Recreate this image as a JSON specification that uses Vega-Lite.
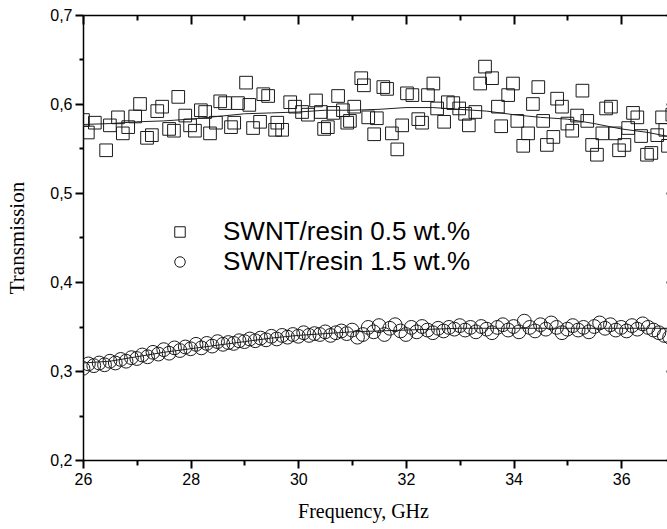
{
  "$schema": "https://vega.github.io/schema/vega-lite/v6.json",
  "width": 592,
  "height": 445,
  "autosize": "none",
  "padding": {"left": 83, "top": 15, "right": 0, "bottom": 69},
  "background": "white",
  "datasets": {
    "sq": [
      {"f":26.00,"t":0.582},{"f":26.09,"t":0.568},{"f":26.22,"t":0.579},{"f":26.43,"t":0.548},{"f":26.50,"t":0.576},{"f":26.65,"t":0.585},{"f":26.74,"t":0.567},{"f":26.84,"t":0.574},{"f":26.97,"t":0.586},{"f":27.06,"t":0.600},
      {"f":27.19,"t":0.562},{"f":27.28,"t":0.565},{"f":27.38,"t":0.592},{"f":27.47,"t":0.597},{"f":27.60,"t":0.572},{"f":27.69,"t":0.570},{"f":27.77,"t":0.608},{"f":27.90,"t":0.587},{"f":27.99,"t":0.576},{"f":28.08,"t":0.570},
      {"f":28.19,"t":0.593},{"f":28.27,"t":0.591},{"f":28.36,"t":0.567},{"f":28.47,"t":0.579},{"f":28.55,"t":0.603},{"f":28.64,"t":0.601},{"f":28.75,"t":0.574},{"f":28.81,"t":0.579},{"f":28.88,"t":0.601},{"f":29.03,"t":0.624},
      {"f":29.09,"t":0.599},{"f":29.16,"t":0.573},{"f":29.29,"t":0.580},{"f":29.35,"t":0.611},{"f":29.44,"t":0.609},{"f":29.57,"t":0.571},{"f":29.61,"t":0.579},{"f":29.70,"t":0.571},{"f":29.85,"t":0.602},{"f":29.94,"t":0.597},
      {"f":30.07,"t":0.591},{"f":30.18,"t":0.588},{"f":30.33,"t":0.604},{"f":30.42,"t":0.591},{"f":30.48,"t":0.572},{"f":30.55,"t":0.574},{"f":30.65,"t":0.590},{"f":30.74,"t":0.609},{"f":30.83,"t":0.593},{"f":30.91,"t":0.579},
      {"f":30.96,"t":0.581},{"f":31.04,"t":0.597},{"f":31.17,"t":0.629},{"f":31.22,"t":0.621},{"f":31.30,"t":0.585},{"f":31.41,"t":0.566},{"f":31.46,"t":0.584},{"f":31.58,"t":0.619},{"f":31.65,"t":0.617},{"f":31.74,"t":0.567},
      {"f":31.84,"t":0.549},{"f":31.93,"t":0.576},{"f":32.02,"t":0.612},{"f":32.12,"t":0.610},{"f":32.23,"t":0.583},{"f":32.30,"t":0.579},{"f":32.41,"t":0.610},{"f":32.51,"t":0.623},{"f":32.58,"t":0.595},{"f":32.71,"t":0.580},
      {"f":32.78,"t":0.602},{"f":32.88,"t":0.601},{"f":32.99,"t":0.595},{"f":33.10,"t":0.589},{"f":33.17,"t":0.576},{"f":33.29,"t":0.591},{"f":33.38,"t":0.623},{"f":33.47,"t":0.642},{"f":33.60,"t":0.629},{"f":33.71,"t":0.597},
      {"f":33.77,"t":0.575},{"f":33.90,"t":0.610},{"f":33.99,"t":0.623},{"f":34.07,"t":0.581},{"f":34.18,"t":0.553},{"f":34.27,"t":0.567},{"f":34.36,"t":0.600},{"f":34.46,"t":0.619},{"f":34.55,"t":0.581},{"f":34.62,"t":0.554},
      {"f":34.74,"t":0.563},{"f":34.81,"t":0.606},{"f":34.90,"t":0.597},{"f":35.00,"t":0.578},{"f":35.09,"t":0.570},{"f":35.18,"t":0.587},{"f":35.28,"t":0.615},{"f":35.37,"t":0.581},{"f":35.46,"t":0.554},{"f":35.55,"t":0.543},
      {"f":35.65,"t":0.567},{"f":35.72,"t":0.595},{"f":35.81,"t":0.597},{"f":35.89,"t":0.567},{"f":35.96,"t":0.548},{"f":36.06,"t":0.554},{"f":36.13,"t":0.573},{"f":36.22,"t":0.590},{"f":36.30,"t":0.585},{"f":36.37,"t":0.564},
      {"f":36.48,"t":0.543},{"f":36.56,"t":0.545},{"f":36.67,"t":0.565},{"f":36.76,"t":0.585},{"f":36.82,"t":0.571},{"f":36.87,"t":0.553},{"f":36.95,"t":0.588}
    ],
    "ci": [
      {"f":26.0,"t":0.303},{"f":26.1,"t":0.308},{"f":26.2,"t":0.306},{"f":26.3,"t":0.309},{"f":26.4,"t":0.307},{"f":26.5,"t":0.311},{"f":26.6,"t":0.309},{"f":26.7,"t":0.313},{"f":26.8,"t":0.311},{"f":26.9,"t":0.315},
      {"f":27.0,"t":0.314},{"f":27.1,"t":0.318},{"f":27.2,"t":0.316},{"f":27.3,"t":0.321},{"f":27.4,"t":0.319},{"f":27.5,"t":0.324},{"f":27.6,"t":0.320},{"f":27.7,"t":0.326},{"f":27.8,"t":0.323},{"f":27.9,"t":0.327},
      {"f":28.0,"t":0.325},{"f":28.1,"t":0.330},{"f":28.2,"t":0.326},{"f":28.3,"t":0.331},{"f":28.4,"t":0.328},{"f":28.5,"t":0.333},{"f":28.6,"t":0.330},{"f":28.7,"t":0.332},{"f":28.8,"t":0.331},{"f":28.9,"t":0.334},
      {"f":29.0,"t":0.333},{"f":29.1,"t":0.336},{"f":29.2,"t":0.334},{"f":29.3,"t":0.337},{"f":29.4,"t":0.335},{"f":29.5,"t":0.339},{"f":29.6,"t":0.336},{"f":29.7,"t":0.340},{"f":29.8,"t":0.338},{"f":29.9,"t":0.341},
      {"f":30.0,"t":0.339},{"f":30.1,"t":0.343},{"f":30.2,"t":0.340},{"f":30.3,"t":0.342},{"f":30.4,"t":0.341},{"f":30.5,"t":0.344},{"f":30.6,"t":0.340},{"f":30.7,"t":0.343},{"f":30.8,"t":0.345},{"f":30.9,"t":0.342},
      {"f":31.0,"t":0.346},{"f":31.1,"t":0.338},{"f":31.2,"t":0.341},{"f":31.3,"t":0.349},{"f":31.4,"t":0.344},{"f":31.5,"t":0.351},{"f":31.6,"t":0.341},{"f":31.7,"t":0.348},{"f":31.8,"t":0.352},{"f":31.9,"t":0.345},
      {"f":32.0,"t":0.341},{"f":32.1,"t":0.349},{"f":32.2,"t":0.344},{"f":32.3,"t":0.350},{"f":32.4,"t":0.346},{"f":32.5,"t":0.343},{"f":32.6,"t":0.348},{"f":32.7,"t":0.345},{"f":32.8,"t":0.349},{"f":32.9,"t":0.347},
      {"f":33.0,"t":0.351},{"f":33.1,"t":0.346},{"f":33.2,"t":0.349},{"f":33.3,"t":0.344},{"f":33.4,"t":0.350},{"f":33.5,"t":0.347},{"f":33.6,"t":0.343},{"f":33.7,"t":0.349},{"f":33.8,"t":0.352},{"f":33.9,"t":0.346},
      {"f":34.0,"t":0.350},{"f":34.1,"t":0.344},{"f":34.2,"t":0.356},{"f":34.3,"t":0.349},{"f":34.4,"t":0.345},{"f":34.5,"t":0.352},{"f":34.6,"t":0.347},{"f":34.7,"t":0.354},{"f":34.8,"t":0.349},{"f":34.9,"t":0.343},
      {"f":35.0,"t":0.347},{"f":35.1,"t":0.351},{"f":35.2,"t":0.346},{"f":35.3,"t":0.349},{"f":35.4,"t":0.344},{"f":35.5,"t":0.350},{"f":35.6,"t":0.354},{"f":35.7,"t":0.348},{"f":35.8,"t":0.352},{"f":35.9,"t":0.346},
      {"f":36.0,"t":0.349},{"f":36.1,"t":0.345},{"f":36.2,"t":0.351},{"f":36.3,"t":0.347},{"f":36.4,"t":0.353},{"f":36.5,"t":0.349},{"f":36.6,"t":0.346},{"f":36.7,"t":0.343},{"f":36.8,"t":0.340},{"f":36.9,"t":0.338},
      {"f":37.0,"t":0.339}
    ],
    "fits": [
      {"s":"a","f":26.0,"t":0.577},{"s":"a","f":26.5,"t":0.578},{"s":"a","f":27.0,"t":0.580},{"s":"a","f":27.5,"t":0.581},{"s":"a","f":28.0,"t":0.583},{"s":"a","f":28.5,"t":0.586},{"s":"a","f":29.0,"t":0.589},{"s":"a","f":29.5,"t":0.590},{"s":"a","f":30.0,"t":0.591},{"s":"a","f":30.5,"t":0.593},{"s":"a","f":31.0,"t":0.593},{"s":"a","f":31.5,"t":0.594},{"s":"a","f":32.0,"t":0.596},{"s":"a","f":32.5,"t":0.596},{"s":"a","f":33.0,"t":0.594},{"s":"a","f":33.5,"t":0.592},{"s":"a","f":34.0,"t":0.588},{"s":"a","f":34.5,"t":0.585},{"s":"a","f":35.0,"t":0.583},{"s":"a","f":35.5,"t":0.578},{"s":"a","f":36.0,"t":0.572},{"s":"a","f":36.5,"t":0.568},{"s":"a","f":37.0,"t":0.562},
      {"s":"b","f":26.0,"t":0.309},{"s":"b","f":26.5,"t":0.311},{"s":"b","f":27.0,"t":0.316},{"s":"b","f":27.5,"t":0.321},{"s":"b","f":28.0,"t":0.325},{"s":"b","f":28.5,"t":0.329},{"s":"b","f":29.0,"t":0.333},{"s":"b","f":29.5,"t":0.337},{"s":"b","f":30.0,"t":0.340},{"s":"b","f":30.5,"t":0.342},{"s":"b","f":31.0,"t":0.344},{"s":"b","f":31.5,"t":0.345},{"s":"b","f":32.0,"t":0.346},{"s":"b","f":32.5,"t":0.347},{"s":"b","f":33.0,"t":0.348},{"s":"b","f":34.0,"t":0.348},{"s":"b","f":35.0,"t":0.348},{"s":"b","f":36.0,"t":0.348},{"s":"b","f":37.0,"t":0.348}
    ]
  },
  "layer": [
    {
      "data": {"name": "fits"},
      "mark": {"type": "line", "color": "#222", "strokeWidth": 1, "clip": true},
      "encoding": {
        "x": {"field": "f", "type": "quantitative", "scale": {"domain": [26, 37], "nice": false, "zero": false},
          "axis": {"orient": "bottom", "values": [26,28,30,32,34,36], "tickSize": 8,
            "labelPadding": 3, "title": "Frequency, GHz", "titleFont": "Liberation Serif", "titleFontSize": 20, "titleFontWeight": "normal", "titlePadding": 14, "titleX": 280}},
        "y": {"field": "t", "type": "quantitative", "scale": {"domain": [0.2, 0.7], "nice": false, "zero": false},
          "axis": {"orient": "left", "values": [0.2,0.3,0.4,0.5,0.6,0.7], "tickSize": 8,
            "labelExpr": "replace(format(datum.value, '.1f'), '.', ',')",
            "labelPadding": 3, "title": "Transmission", "titleFont": "Liberation Serif", "titleFontSize": 21, "titleFontWeight": "normal", "titlePadding": 22}},
        "detail": {"field": "s"}
      }
    },
    {
      "data": {"name": "sq"},
      "transform": [{"calculate": "'SWNT/resin 0.5 wt.%'", "as": "series"}],
      "mark": {"type": "point", "filled": false, "stroke": "#1a1a1a", "strokeWidth": 1, "opacity": 1, "size": 160, "clip": true},
      "encoding": {
        "x": {"field": "f", "type": "quantitative", "axis": {"orient": "top", "values": [26,28,30,32,34,36], "labels": false, "title": null, "tickSize": -9}},
        "y": {"field": "t", "type": "quantitative", "axis": {"orient": "right", "values": [0.2,0.3,0.4,0.5,0.6,0.7], "labels": false, "title": null, "tickSize": -9}},
        "shape": {"field": "series", "type": "nominal",
          "scale": {"domain": ["SWNT/resin 0.5 wt.%", "SWNT/resin 1.5 wt.%"], "range": ["square", "circle"]},
          "legend": {"orient": "none", "legendX": 84, "legendY": 204, "title": null, "labelFont": "Liberation Sans", "labelFontSize": 26, "labelColor": "black", "labelLimit": 500,
            "symbolSize": 110, "symbolStrokeColor": "#1a1a1a", "symbolStrokeWidth": 1, "symbolFillColor": "transparent", "symbolOpacity": 1, "labelOffset": 30, "rowPadding": 4}}
      }
    },
    {
      "data": {"name": "ci"},
      "transform": [{"calculate": "'SWNT/resin 1.5 wt.%'", "as": "series"}],
      "mark": {"type": "point", "filled": false, "stroke": "#1a1a1a", "strokeWidth": 1, "opacity": 1, "size": 190, "clip": true},
      "encoding": {
        "x": {"field": "f", "type": "quantitative", "axis": {"orient": "bottom", "values": [27,29,31,33,35,37], "labels": false, "domain": false, "title": null, "tickSize": 5}},
        "y": {"field": "t", "type": "quantitative", "axis": {"orient": "left", "values": [0.25,0.35,0.45,0.55,0.65], "labels": false, "domain": false, "title": null, "tickSize": 4}},
        "shape": {"field": "series", "type": "nominal"}
      }
    },
    {
      "data": {"name": "fits"},
      "mark": {"type": "point", "opacity": 0},
      "encoding": {
        "x": {"field": "f", "type": "quantitative", "axis": {"orient": "top", "values": [27,29,31,33,35,37], "labels": false, "domain": false, "title": null, "tickSize": -5}},
        "y": {"field": "t", "type": "quantitative", "axis": {"orient": "right", "values": [0.25,0.35,0.45,0.55,0.65], "labels": false, "domain": false, "title": null, "tickSize": -5}}
      }
    }
  ],
  "resolve": {"axis": {"x": "independent", "y": "independent"}},
  "config": {
    "view": {"stroke": null},
    "axis": {"grid": false, "labelFont": "Liberation Sans", "labelFontSize": 16, "labelColor": "black", "domainColor": "black", "domainWidth": 1.5, "tickColor": "black", "tickWidth": 2, "titleColor": "black", "labelFlush": false, "labelOverlap": false}
  }
}
